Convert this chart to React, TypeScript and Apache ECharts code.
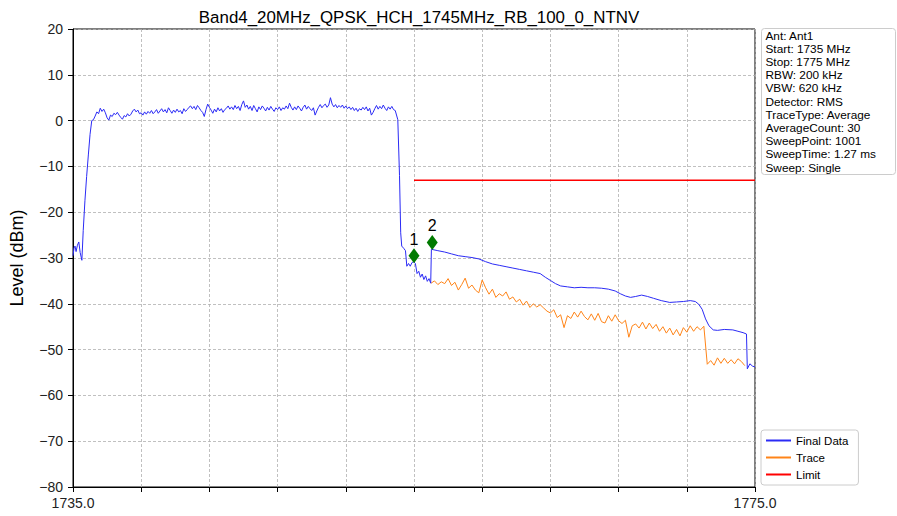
import React, { useEffect, useRef } from "react";
import * as echarts from "echarts";

const chartTitle = "Band4_20MHz_QPSK_HCH_1745MHz_RB_100_0_NTNV";
const infoLines = [
  "Ant: Ant1",
  "Start: 1735 MHz",
  "Stop: 1775 MHz",
  "RBW: 200 kHz",
  "VBW: 620 kHz",
  "Detector: RMS",
  "TraceType: Average",
  "AverageCount: 30",
  "SweepPoint: 1001",
  "SweepTime: 1.27 ms",
  "Sweep: Single",
];
const legendNames = ["Final Data", "Trace", "Limit"];

const xMin = 1735;
const xMax = 1775;
const xStep = 4;
const xLabelTicks = [1735, 1775];
const yMin = -80;
const yMax = 20;
const yStep = 10;

// Final Data: left skirt [freq MHz, level dBm]
const finalLeftEdge: [number, number][] = [
  [1735.0, -29.5], [1735.06, -27.8], [1735.12, -27.4], [1735.18, -28.6],
  [1735.26, -27.2], [1735.34, -26.5], [1735.42, -28.8], [1735.52, -30.5],
  [1735.6, -24.0], [1735.7, -17.5], [1735.8, -12.2], [1735.9, -7.5],
  [1736.0, -3.0], [1736.1, 0.0],
];
// Final Data: in-band levels, sweep grid from 1736.2 MHz in 0.1 MHz steps
const bandStart = 1736.2;
const bandStep = 0.1;
const bandLevels = [
  0.2, 1.0, 1.9, 1.5, 2.7, 2.0, 2.5, 1.7,
  0.6, 0.1, 1.2, 0.9, 1.6, 1.3, 1.8, 1.2, 0.7, 0.3,
  1.1, 0.8, 1.5, 1.0, 1.4, 2.1, 2.5, 1.9, 2.3, 1.5,
  1.7, 1.2, 1.9, 1.4, 2.0, 1.6, 2.2, 1.5, 1.9, 2.4,
  1.6, 2.1, 2.6, 1.9, 2.4, 1.7, 2.8, 2.2, 1.6, 2.3,
  1.8, 2.5, 1.9, 2.2, 1.5, 2.6, 2.0, 2.4, 2.9, 3.2,
  2.6, 3.1, 2.4, 3.3, 2.8, 2.2, 1.8, 0.9, 2.4, 3.6,
  2.9, 2.3, 1.6, 2.5, 1.9, 2.8, 2.1, 2.6, 1.8, 2.4,
  2.7, 3.2, 2.5, 3.0, 2.4, 3.3, 2.6, 3.1, 2.2, 3.5,
  4.3, 2.9, 3.4, 2.5, 3.1, 2.2, 3.3, 2.6, 1.9, 3.0,
  2.4, 3.2, 2.7, 2.1, 2.9, 2.3, 3.1, 2.5, 2.0, 2.8,
  2.4, 3.0, 2.2, 2.8, 2.5, 3.2, 2.6, 3.8, 2.9, 2.3,
  3.0, 2.4, 3.2, 2.7, 2.1, 2.9, 3.4, 2.5, 3.1, 2.6,
  2.2, 2.8, 1.2, 2.1, 2.9, 3.5, 2.8, 3.3, 3.6, 2.9,
  3.4, 5.0, 3.6, 3.0, 3.5, 2.8, 3.3, 2.9, 3.4, 2.7,
  3.2, 2.6, 3.0, 2.4, 2.9, 2.2, 2.7, 2.0, 2.6, 2.3,
  2.9, 2.4, 3.0, 2.1, 2.7, 1.2, 1.8, 2.6, 3.3, 2.5,
  3.1, 2.6, 3.4, 2.7, 2.2, 3.0, 2.5, 3.1, 2.4, 2.2,
];
// Final Data: right skirt and out-of-band region
const finalRightEdge: [number, number][] = [
  [1754.05, 0.2], [1754.15, -12.0], [1754.22, -24.5], [1754.28, -27.4],
  [1754.4, -27.9], [1754.5, -28.4], [1754.58, -31.8], [1754.68, -31.2],
  [1754.78, -31.8], [1754.88, -31.0], [1754.98, -30.8], [1755.08, -31.2],
  [1755.18, -33.4], [1755.28, -32.9], [1755.38, -34.2], [1755.48, -33.5],
  [1755.58, -34.7], [1755.68, -33.9], [1755.78, -35.1], [1755.88, -34.5],
  [1755.98, -35.5],
];
const finalTail: [number, number][] = [
  [1756.02, -28.1], [1756.4, -28.4], [1756.8, -28.7], [1757.2, -29.1],
  [1757.6, -29.5], [1758.0, -29.7], [1758.4, -29.9], [1758.8, -30.2],
  [1759.2, -30.8], [1759.6, -31.3], [1760.0, -31.6], [1760.4, -31.9],
  [1760.8, -32.2], [1761.2, -32.5], [1761.6, -32.8], [1762.0, -33.1],
  [1762.4, -33.4], [1762.7, -34.2], [1763.0, -34.9], [1763.3, -35.6],
  [1763.6, -36.1], [1764.0, -36.3], [1764.4, -36.5], [1764.8, -36.4],
  [1765.2, -36.5], [1765.6, -36.5], [1766.0, -36.6], [1766.4, -36.8],
  [1766.8, -37.2], [1767.1, -37.8], [1767.4, -38.3], [1767.7, -38.6],
  [1768.0, -38.4], [1768.35, -38.1], [1768.7, -38.4], [1769.05, -38.8],
  [1769.5, -39.3], [1770.0, -39.7], [1770.4, -39.6], [1770.8, -39.5],
  [1771.2, -39.3], [1771.5, -39.5], [1771.7, -40.1], [1771.9, -41.2],
  [1772.1, -43.3], [1772.3, -44.8], [1772.55, -45.7], [1772.8, -45.8],
  [1773.2, -45.6], [1773.7, -45.7], [1774.0, -46.0], [1774.3, -46.3],
  [1774.5, -46.6], [1774.55, -54.2], [1774.7, -53.1], [1774.85, -53.6],
  [1775.0, -53.8],
];

// Trace: sweep grid from 1756.0 MHz in 0.2 MHz steps
const traceStart = 1756.0;
const traceStep = 0.2;
const traceLevels = [
  -35.5, -35.0, -35.8, -35.2, -35.6,
  -34.5, -36.0, -35.3, -37.0, -35.8,
  -34.4, -36.6, -35.9, -37.0, -37.6,
  -34.8, -36.5, -37.9, -36.8, -38.6,
  -37.8, -38.3, -37.4, -39.0, -38.5,
  -39.6, -39.0, -40.3, -39.4, -40.8,
  -40.0, -40.7, -40.2, -40.9, -41.6,
  -42.0, -41.3, -43.0, -42.4, -45.2,
  -42.6, -43.2, -41.8, -42.9, -41.6,
  -42.8, -43.5, -42.2, -43.6, -42.1,
  -43.9, -44.2, -42.6, -43.8, -42.4,
  -43.7, -44.3, -43.6, -47.3, -44.8,
  -44.4, -45.3, -44.0, -45.5, -44.2,
  -45.4, -44.5, -46.0, -45.0, -46.4,
  -45.3, -46.8, -45.6, -47.0, -45.2,
  -46.2, -44.8, -46.0, -45.0, -45.7,
  -44.9,
  -53.2, -52.4, -53.4, -51.8, -53.0, -51.9, -53.0, -52.2, -53.1, -52.0,
  -52.6, -53.5,
];

const limitFreq = [1755, 1775];
const limitLevel = [-13, -13];

const markerFreq = [1755.0, 1756.07];
const markerLevel = [-29.5, -26.6];
const markerNames = ["1", "2"];

const FONT = "'Liberation Sans', Arial, sans-serif";

function fmtY(v: number): string {
  return v < 0 ? "\u2212" + Math.abs(v) : String(v);
}

export default function App() {
  const ref = useRef<HTMLDivElement>(null);

  useEffect(() => {
    if (!ref.current) return;
    const chart = echarts.init(ref.current, undefined, { renderer: "svg" });

    const finalData: [number, number][] = [
      ...finalLeftEdge,
      ...bandLevels.map((v, i) => [+(bandStart + i * bandStep).toFixed(2), v] as [number, number]),
      ...finalRightEdge,
      ...finalTail,
    ];
    const traceData = traceLevels.map(
      (v, i) => [+(traceStart + i * traceStep).toFixed(2), v] as [number, number]
    );
    const limitData = limitFreq.map((f, i) => [f, limitLevel[i]]);
    const markerData = markerFreq.map((f, i) => ({
      value: [f, markerLevel[i]],
      label: { formatter: markerNames[i] },
    }));

    const lineGap = 13.2;
    const infoTexts = infoLines.map((t, i) => ({
      type: "text",
      x: 4,
      y: 1 + i * lineGap,
      style: {
        text: t,
        fontFamily: FONT,
        fontSize: 11.8,
        fill: "#000",
      },
    }));

    chart.setOption({
      animation: false,
      backgroundColor: "#ffffff",
      textStyle: { fontFamily: FONT },
      title: {
        text: chartTitle,
        left: 414,
        top: 4,
        textAlign: "center",
        textStyle: { fontFamily: FONT, fontSize: 16.9, fontWeight: "normal", color: "#000" },
      },
      grid: {
        left: 73,
        right: 142,
        top: 29,
        bottom: 29,
        show: true,
        borderColor: "#000",
        borderWidth: 1,
        backgroundColor: "#fff",
      },
      legend: {
        data: legendNames,
        orient: "vertical",
        left: 761,
        top: 430,
        icon: "rect",
        itemWidth: 25,
        itemHeight: 2,
        itemGap: 4,
        padding: [4, 10, 4, 5],
        borderColor: "#cccccc",
        borderWidth: 1,
        borderRadius: 3,
        backgroundColor: "#fff",
        textStyle: { fontFamily: FONT, fontSize: 11.5, color: "#000", lineHeight: 13 },
      },
      xAxis: {
        type: "value",
        min: xMin,
        max: xMax,
        interval: xStep,
        axisLine: { show: true, onZero: false, lineStyle: { color: "#000", width: 1 } },
        axisTick: { show: true, inside: false, length: 5, lineStyle: { color: "#000" } },
        axisLabel: {
          margin: 9,
          fontFamily: FONT,
          fontSize: 14,
          color: "#222",
          formatter: (v: number) => (xLabelTicks.includes(v) ? v.toFixed(1) : ""),
        },
        splitLine: { show: true, lineStyle: { color: "#b0b0b0", type: [3, 2], width: 0.8 } },
      },
      yAxis: {
        type: "value",
        min: yMin,
        max: yMax,
        interval: yStep,
        name: "Level (dBm)",
        nameLocation: "middle",
        nameGap: 47,
        nameTextStyle: { fontFamily: FONT, fontSize: 18, color: "#000" },
        axisLine: { show: true, onZero: false, lineStyle: { color: "#000", width: 1 } },
        axisTick: { show: true, inside: false, length: 5, lineStyle: { color: "#000" } },
        axisLabel: { margin: 10, fontFamily: FONT, fontSize: 14, color: "#222", formatter: fmtY },
        splitLine: { show: true, lineStyle: { color: "#b0b0b0", type: [3, 2], width: 0.8 } },
      },
      series: [
        {
          name: "Trace",
          type: "line",
          data: traceData,
          symbol: "none",
          lineStyle: { color: "#ff8418", width: 1 },
          itemStyle: { color: "#ff8418" },
          z: 2,
        },
        {
          name: "Final Data",
          type: "line",
          data: finalData,
          symbol: "none",
          lineStyle: { color: "#2b2bf5", width: 1 },
          itemStyle: { color: "#2b2bf5" },
          z: 3,
        },
        {
          name: "Limit",
          type: "line",
          data: limitData,
          symbol: "none",
          lineStyle: { color: "#ff0000", width: 1.5 },
          itemStyle: { color: "#ff0000" },
          z: 4,
        },
        {
          name: "Markers",
          type: "scatter",
          data: markerData,
          symbol: "diamond",
          symbolSize: [11, 15],
          itemStyle: { color: "#007a00", opacity: 1 },
          label: {
            show: true,
            position: "top",
            distance: 1,
            fontFamily: FONT,
            fontSize: 16,
            color: "#000",
          },
          z: 5,
        },
      ],
      graphic: [
        {
          type: "group",
          left: 761,
          top: 28,
          children: [
            {
              type: "rect",
              shape: { x: 0, y: 0, width: 134, height: 146, r: 3 },
              style: { fill: "#fff", stroke: "#cccccc", lineWidth: 1 },
            },
            ...infoTexts,
          ],
        },
      ],
    });

    return () => chart.dispose();
  }, []);

  return (
    <div
      ref={ref}
      style={{ position: "fixed", left: 0, top: 0, width: 897, height: 516 }}
    />
  );
}
